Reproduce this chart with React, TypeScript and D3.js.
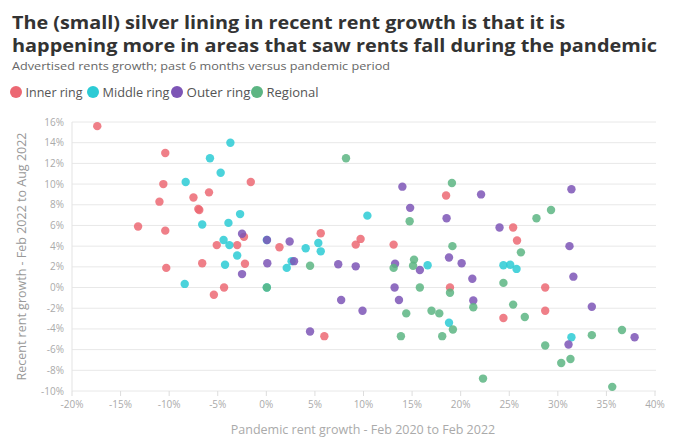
import React from "react";
import * as d3 from "d3";

const W = 696;
const H = 448;

const seriesNames = ["Inner ring", "Middle ring", "Outer ring", "Regional"];
const seriesColors = ["#ec6873", "#2ccbd5", "#7d55b6", "#5cb583"];

// [pandemic growth %, recent growth %]
const innerRing: [number, number][] = [
  [-17.4, 15.6], [-10.4, 13.0], [-10.6, 10.0], [-1.6, 10.2], [-5.9, 9.2], [-7.5, 8.7],
  [-11.0, 8.3], [-6.9, 7.5], [-7.0, 7.6], [-13.2, 5.9], [-10.4, 5.5], [-2.3, 4.9],
  [-5.1, 4.1], [-3.0, 4.1], [1.35, 3.9], [-10.3, 1.9], [-6.6, 2.35], [-2.2, 2.3],
  [-4.35, 0.0], [-5.4, -0.7], [5.6, 5.25], [9.2, 4.15], [9.7, 4.7], [13.1, 4.15],
  [18.5, 8.9], [18.9, 0.0], [5.97, -4.7], [25.4, 5.8], [25.8, 4.55], [28.7, 0.0],
  [28.7, -2.25], [24.4, -2.95],
];
const middleRing: [number, number][] = [
  [-3.7, 14.0], [-5.8, 12.5], [-4.7, 11.1], [-8.3, 10.2], [-2.7, 7.1], [-6.6, 6.1],
  [-3.9, 6.25], [-4.4, 4.6], [-3.8, 4.1], [-3.0, 3.1], [-4.25, 2.2], [-8.4, 0.35],
  [0.05, 0.0], [0.05, 4.6], [10.4, 6.95], [4.05, 3.8], [5.35, 4.3], [5.6, 3.5],
  [2.1, 1.9], [2.6, 2.55], [16.6, 2.15], [18.8, -3.4], [24.4, 2.15], [25.1, 2.2],
  [25.75, 1.8], [31.4, -4.8],
];
const outerRing: [number, number][] = [
  [-2.5, 5.2], [0.07, 4.6], [0.1, 2.35], [-2.5, 1.3], [14.0, 9.75], [14.8, 7.7],
  [18.55, 6.7], [2.4, 4.45], [18.8, 2.9], [2.85, 2.55], [7.4, 2.25], [9.2, 2.05],
  [13.25, 2.3], [15.8, 1.7], [20.1, 2.35], [13.2, 0.0], [7.7, -1.2], [13.65, -1.2],
  [9.9, -2.25], [4.5, -4.25], [22.1, 9.0], [31.4, 9.5], [24.0, 5.8], [31.2, 4.0],
  [21.2, 0.85], [31.6, 1.05], [21.3, -1.25], [33.5, -1.85], [37.9, -4.8], [31.1, -5.5],
];
const regional: [number, number][] = [
  [0.05, 0.0], [8.2, 12.5], [19.1, 10.1], [14.75, 6.4], [19.15, 4.0], [15.2, 2.7],
  [4.5, 2.1], [13.1, 1.9], [15.1, 2.1], [15.8, 0.0], [18.9, -0.5], [14.4, -2.5],
  [17.0, -2.25], [17.8, -2.5], [19.2, -4.05], [13.85, -4.7], [18.1, -4.7], [29.3, 7.5],
  [27.8, 6.7], [26.2, 3.4], [24.4, 0.45], [21.3, -1.9], [25.4, -1.65], [26.6, -2.85],
  [36.6, -4.1], [33.5, -4.6], [28.7, -5.6], [30.35, -7.3], [31.3, -6.9], [22.3, -8.8],
  [35.6, -9.6],
];
const allSeries = [innerRing, middleRing, outerRing, regional];

const xTicks = [-20, -15, -10, -5, 0, 5, 10, 15, 20, 25, 30, 35, 40];
const yTicks = [16, 14, 12, 10, 8, 6, 4, 2, 0, -2, -4, -6, -8, -10];

const titleLines = [
  "The (small) silver lining in recent rent growth is that it is",
  "happening more in areas that saw rents fall during the pandemic",
];
const subtitle = "Advertised rents growth; past 6 months versus pandemic period";
const xLabel = "Pandemic rent growth - Feb 2020 to Feb 2022";
const yLabel = "Recent rent growth - Feb 2022 to Aug 2022";

const FONT = "'Open Sans', 'DejaVu Sans', sans-serif";

export default function App() {
  const x = d3.scaleLinear().domain([-20, 40]).range([72, 655]);
  const y = d3.scaleLinear().domain([-10, 16]).range([391, 122]);
  const legendX = [16, 93, 177, 257];
  const legendW = [57, 67, 64, 52];

  return (
    <svg width={W} height={H} style={{ position: "absolute", left: 0, top: 0, background: "#fff" }} fontFamily={FONT}>
      <text x={12} y={28.5} fontSize={18} fontWeight={700} fill="#333" textLength={553} lengthAdjust="spacingAndGlyphs">
        {titleLines[0]}
      </text>
      <text x={12} y={52} fontSize={18} fontWeight={700} fill="#333" textLength={645} lengthAdjust="spacingAndGlyphs">
        {titleLines[1]}
      </text>
      <text x={12} y={69.5} fontSize={11.5} fill="#666" textLength={378} lengthAdjust="spacingAndGlyphs">
        {subtitle}
      </text>
      {seriesNames.map((n, i) => (
        <g key={n}>
          <circle cx={legendX[i]} cy={92} r={6} fill={seriesColors[i]} />
          <text x={legendX[i] + 9.5} y={96.5} fontSize={12.5} fill="#555" textLength={legendW[i]} lengthAdjust="spacingAndGlyphs">
            {n}
          </text>
        </g>
      ))}
      {yTicks.map((t) => (
        <g key={t}>
          <line x1={72} x2={656} y1={y(t)} y2={y(t)} stroke="#e8e8e8" strokeWidth={1} />
          <text x={64} y={y(t) + 3.5} fontSize={10} fill="#aaa" textAnchor="end">
            {t}%
          </text>
        </g>
      ))}
      <line x1={72} x2={72} y1={y(16)} y2={y(-10)} stroke="#e3e3e3" />
      {xTicks.map((t) => (
        <g key={t}>
          <line x1={x(t)} x2={x(t)} y1={y(-10)} y2={y(-10) + 5} stroke="#ddd" />
          <text x={x(t)} y={408} fontSize={10} fill="#aaa" textAnchor="middle">
            {t}%
          </text>
        </g>
      ))}
      <text x={363} y={434} fontSize={12.5} fill="#aaa" textAnchor="middle">
        {xLabel}
      </text>
      <text transform={`translate(26,${(y(16) + y(-10)) / 2}) rotate(-90)`} fontSize={12.5} fill="#999" textAnchor="middle">
        {yLabel}
      </text>
      {allSeries.map((s, i) => (
        <g key={i}>
          {s.map((d, j) => (
            <circle key={j} cx={x(d[0])} cy={y(d[1])} r={4.2} fill={seriesColors[i]} fillOpacity={0.85} />
          ))}
        </g>
      ))}
    </svg>
  );
}
